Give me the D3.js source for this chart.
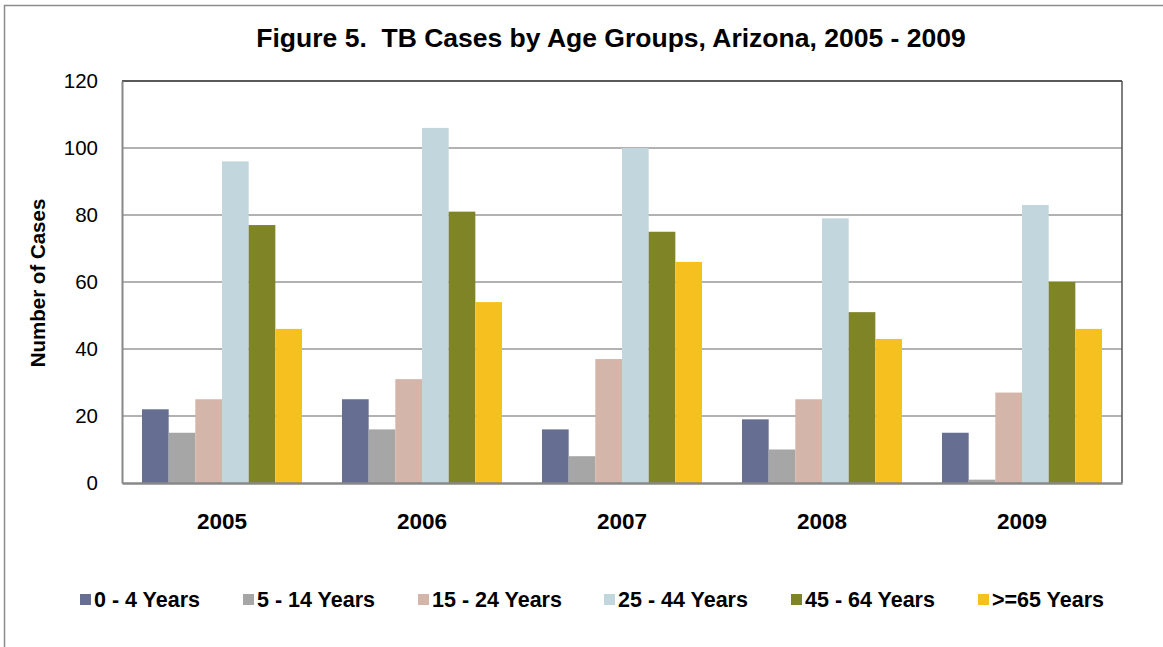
<!DOCTYPE html>
<html>
<head>
<meta charset="utf-8">
<script src="https://cdn.jsdelivr.net/npm/d3@7"></script>
<style>
  body { margin: 0; background: #fff; }
  text { font-family: "Liberation Sans", Arial, sans-serif; }
</style>
</head>
<body>
<div id="chart"></div>
<script>
var width = 1163, height = 647;

// data
var years = ["2005", "2006", "2007", "2008", "2009"];
var groups = ["0 - 4 Years", "5 - 14 Years", "15 - 24 Years", "25 - 44 Years", "45 - 64 Years", ">=65 Years"];
var age0_4   = [22, 25, 16, 19, 15];
var age5_14  = [15, 16, 8, 10, 1];
var age15_24 = [25, 31, 37, 25, 27];
var age25_44 = [96, 106, 100, 79, 83];
var age45_64 = [77, 81, 75, 51, 60];
var age65    = [46, 54, 66, 43, 46];
var yTicks = [0, 20, 40, 60, 80, 100, 120];

var series = [age0_4, age5_14, age15_24, age25_44, age45_64, age65];
var colors = ["#666e91", "#a6a6a6", "#d4b5aa", "#c1d6dd", "#7f8427", "#f6c11f"];

var margin = {left: 122, top: 81, right: 1122, bottom: 483};

var svg = d3.select("#chart").append("svg")
    .attr("width", width)
    .attr("height", height);

// outer frame
svg.append("rect")
    .attr("x", 4.5).attr("y", 5.5)
    .attr("width", width + 10).attr("height", height + 10)
    .attr("fill", "none")
    .attr("stroke", "#8c8c8c")
    .attr("stroke-width", 1.5);

var x0 = d3.scaleBand()
    .domain(years)
    .range([margin.left, margin.right])
    .paddingInner(0.2)
    .paddingOuter(0.1);
var x1 = d3.scaleBand()
    .domain(d3.range(groups.length))
    .range([0, x0.bandwidth()]);
var y = d3.scaleLinear()
    .domain([0, 120])
    .range([margin.bottom, margin.top]);

// gridlines
svg.append("g").selectAll("line")
    .data(yTicks.slice(1, -1))
    .enter().append("line")
      .attr("x1", margin.left).attr("x2", margin.right)
      .attr("y1", function(d) { return y(d); })
      .attr("y2", function(d) { return y(d); })
      .attr("stroke", "#999")
      .attr("stroke-width", 1.5);

// frame top + right
svg.append("line")
    .attr("x1", margin.left).attr("x2", margin.right)
    .attr("y1", margin.top).attr("y2", margin.top)
    .attr("stroke", "#222").attr("stroke-width", 1.5);
svg.append("line")
    .attr("x1", margin.right).attr("x2", margin.right)
    .attr("y1", margin.top).attr("y2", margin.bottom)
    .attr("stroke", "#555").attr("stroke-width", 1.5);

// bars
var yearG = svg.append("g").selectAll("g")
    .data(years)
    .enter().append("g")
      .attr("transform", function(d) { return "translate(" + x0(d) + ",0)"; });

yearG.selectAll("rect")
    .data(function(d, i) { return series.map(function(s, k) { return {k: k, v: s[i]}; }); })
    .enter().append("rect")
      .attr("x", function(d) { return x1(d.k); })
      .attr("width", x1.bandwidth())
      .attr("y", function(d) { return y(d.v); })
      .attr("height", function(d) { return y(0) - y(d.v); })
      .attr("fill", function(d) { return colors[d.k]; });

// axes
var yAxis = svg.append("g")
    .attr("transform", "translate(" + margin.left + ",0)")
    .call(d3.axisLeft(y).tickValues(yTicks).tickSize(0).tickPadding(24));
yAxis.select(".domain").attr("stroke", "#888").attr("stroke-width", 2);
yAxis.selectAll("text").attr("font-size", 20.5).attr("fill", "#000")
    .attr("font-family", "Liberation Sans, Arial, sans-serif");

var xAxis = svg.append("g")
    .attr("transform", "translate(0," + margin.bottom + ")")
    .call(d3.axisBottom(x0).tickSize(0).tickPadding(30));
xAxis.select(".domain").attr("stroke", "#888").attr("stroke-width", 2.5);
xAxis.selectAll("text").attr("font-size", 22.5).attr("font-weight", "bold").attr("fill", "#000")
    .attr("font-family", "Liberation Sans, Arial, sans-serif");

// titles
svg.append("text")
    .attr("x", 611).attr("y", 47)
    .attr("text-anchor", "middle")
    .attr("font-size", 26.5).attr("font-weight", "bold")
    .style("white-space", "pre")
    .text("Figure 5.  TB Cases by Age Groups, Arizona, 2005 - 2009");

svg.append("text")
    .attr("transform", "translate(45,283) rotate(-90)")
    .attr("text-anchor", "middle")
    .attr("font-size", 20.5).attr("font-weight", "bold")
    .text("Number of Cases");

// legend
var legendX = [80, 243, 418, 604, 791, 978];
var legend = svg.append("g").selectAll("g")
    .data(groups)
    .enter().append("g")
      .attr("transform", function(d, i) { return "translate(" + legendX[i] + ",594)"; });
legend.append("rect")
    .attr("width", 11).attr("height", 11)
    .attr("fill", function(d, i) { return colors[i]; });
legend.append("text")
    .attr("x", 14).attr("y", 13)
    .attr("font-size", 21.5).attr("font-weight", "bold")
    .text(function(d) { return d; });
</script>
</body>
</html>
